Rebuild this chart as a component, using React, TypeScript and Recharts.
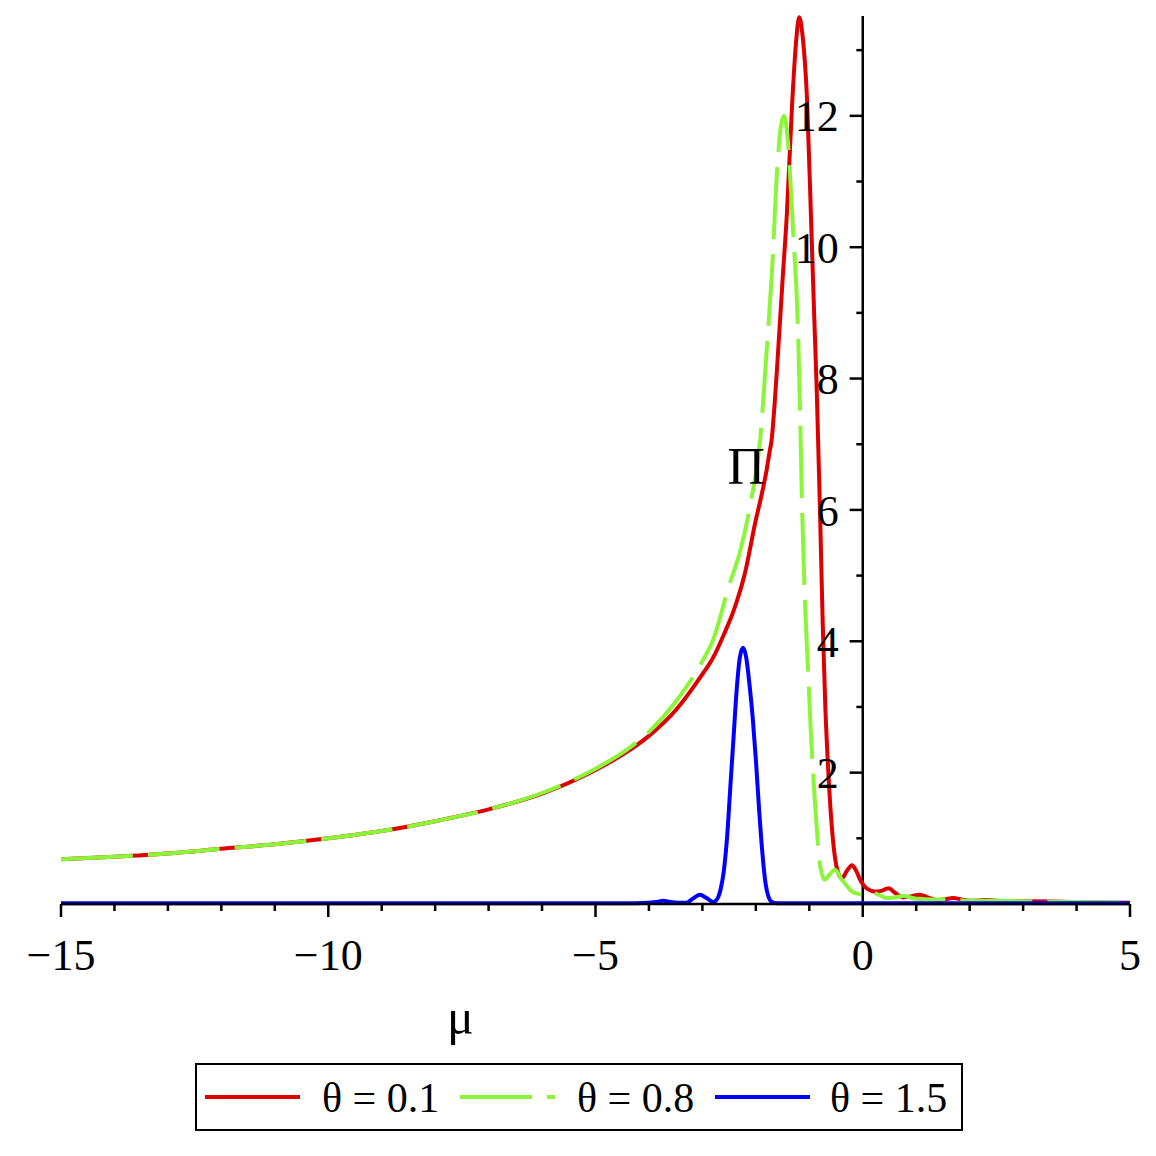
import { LineChart, Line, XAxis, YAxis, ReferenceLine, ReferenceDot } from 'recharts';

// θ = 0.1
const redMu = [-15, -14, -13, -12, -11, -10, -9, -8, -7, -6, -5, -4.5, -4, -3.5, -3, -2.8, -2.6, -2.4, -2.2, -2, -1.9, -1.8, -1.75, -1.7, -1.65, -1.6, -1.5, -1.42, -1.32, -1.25, -1.19, -1.13, -1.04, -0.97, -0.91, -0.86, -0.8, -0.75, -0.7, -0.65, -0.56, -0.47, -0.39, -0.3, -0.2, -0.12, -0.05, 0.07, 0.23, 0.35, 0.48, 0.62, 0.76, 0.92, 1.07, 1.22, 1.38, 1.53, 1.69, 1.85, 2.0, 2.3, 2.7, 3.2, 4, 5];
const redPi = [0.68, 0.72, 0.77, 0.84, 0.91, 1.0, 1.11, 1.26, 1.44, 1.68, 2.04, 2.27, 2.56, 2.95, 3.5, 3.75, 4.1, 4.5, 5.05, 5.85, 6.2, 6.6, 6.85, 7.1, 7.6, 8.2, 9.5, 10.5, 12.2, 13.1, 13.5, 13.25, 12.2, 10.5, 9.0, 7.8, 6.0, 4.3, 3.0, 2.1, 1.0, 0.5, 0.39, 0.5, 0.59, 0.5, 0.37, 0.24, 0.19, 0.2, 0.24, 0.16, 0.1, 0.12, 0.14, 0.1, 0.06, 0.07, 0.09, 0.07, 0.05, 0.06, 0.04, 0.04, 0.03, 0.02];

// θ = 0.8
const greenMu = [-15, -14, -13, -12, -11, -10, -9, -8, -7, -6, -5, -4.5, -4, -3.5, -3, -2.8, -2.5, -2.3, -2.1, -1.92, -1.8, -1.7, -1.6, -1.53, -1.47, -1.4, -1.3, -1.21, -1.17, -1.14, -1.08, -1.02, -0.97, -0.89, -0.8, -0.71, -0.62, -0.52, -0.4, -0.3, -0.2, -0.05, 0.1, 0.3, 0.45, 0.6, 0.76, 1.0, 1.3, 1.6, 2, 2.5, 3, 4, 5];
const greenPi = [0.68, 0.72, 0.77, 0.84, 0.91, 1.0, 1.11, 1.26, 1.44, 1.69, 2.06, 2.3, 2.62, 3.08, 3.7, 4.02, 4.85, 5.35, 6.1, 7.06, 8.4, 9.6, 11.2, 11.85, 12.0, 11.6, 10.2, 8.7, 7.4, 6.2, 4.6, 3.5, 2.6, 1.5, 0.6, 0.37, 0.45, 0.52, 0.38, 0.28, 0.19, 0.15, 0.2, 0.14, 0.09, 0.1, 0.12, 0.08, 0.07, 0.07, 0.05, 0.05, 0.04, 0.03, 0.02];

// θ = 1.5
const blueMu = [-15, -12, -9, -6, -4.5, -4, -3.85, -3.73, -3.6, -3.45, -3.3, -3.18, -3.05, -2.92, -2.8, -2.72, -2.66, -2.6, -2.54, -2.48, -2.42, -2.36, -2.3, -2.24, -2.18, -2.12, -2.06, -2.0, -1.94, -1.88, -1.82, -1.76, -1.7, -1.6, -1.4, -1, 0, 2, 5];
const bluePi = [0.01, 0.01, 0.01, 0.01, 0.01, 0.02, 0.03, 0.05, 0.03, 0.02, 0.02, 0.08, 0.14, 0.09, 0.03, 0.08, 0.22, 0.5, 1.0, 1.75, 2.5, 3.25, 3.75, 3.9, 3.75, 3.35, 2.85, 2.2, 1.45, 0.8, 0.32, 0.1, 0.03, 0.01, 0.01, 0.01, 0.01, 0.01, 0.01];

const xTicks = [-15, -14, -13, -12, -11, -10, -9, -8, -7, -6, -5, -4, -3, -2, -1, 0, 1, 2, 3, 4, 5];
const yTicks = [1, 2, 3, 4, 5, 6, 7, 8, 9, 10, 11, 12, 13];
const yMax = 13.52;
const seriesNames = ['θ = 0.1', 'θ = 0.8', 'θ = 1.5'];
const colors = ['#dd0000', '#8cf53a', '#0000ff'];
const piLabelAt = { x: -2.18, y: 6.67 };

const FONT = '"Liberation Serif", "Times New Roman", serif';
const GREEN_DASH = '72 15';
const LW = 4;

const toPoints = (mu: number[], pi: number[]) => mu.map((x, i) => ({ x, y: pi[i] }));
const redData = toPoints(redMu, redPi);
const greenData = toPoints(greenMu, greenPi);
const blueData = toPoints(blueMu, bluePi);

const fmt = (v: number) => (v < 0 ? `\u2212${-v}` : String(v));

function XTick(props: any) {
  const { x, y, payload } = props;
  const v = payload.value;
  const major = v % 5 === 0;
  return (
    <g>
      <line x1={x} x2={x} y1={y} y2={y + (major ? 13 : 7)} stroke="#000" strokeWidth={2.5} />
      {major && (
        <text x={x} y={y + 66} textAnchor="middle" fontSize={44} fontFamily={FONT} fill="#000">
          {fmt(v)}
        </text>
      )}
    </g>
  );
}

function LegendBox() {
  return (
    <svg width={770} height={70} style={{ position: 'absolute', left: 187, top: 1055 }}>
      <rect x={1} y={1} width={766} height={66} fill="#fff" stroke="#000" strokeWidth={2} />
      <line x1={10} x2={105} y1={34} y2={34} stroke={colors[0]} strokeWidth={LW} />
      <text x={127} y={49} fontSize={42} fontFamily={FONT}>{seriesNames[0]}</text>
      <line x1={265} x2={360} y1={34} y2={34} stroke={colors[1]} strokeWidth={LW} strokeDasharray={GREEN_DASH} />
      <text x={382} y={49} fontSize={42} fontFamily={FONT}>{seriesNames[1]}</text>
      <line x1={520} x2={615} y1={34} y2={34} stroke={colors[2]} strokeWidth={LW} />
      <text x={635} y={49} fontSize={42} fontFamily={FONT}>{seriesNames[2]}</text>
    </svg>
  );
}

export default function App() {
  return (
    <div style={{ position: 'relative', width: 1140, height: 1140, background: '#fff' }}>
      <LineChart
        width={1140}
        height={1140}
        margin={{ top: 8, right: 18, left: 53, bottom: 114 }}
        style={{ fontFamily: FONT }}
      >
        <XAxis
          type="number"
          dataKey="x"
          domain={[-15, 5]}
          ticks={xTicks}
          interval={0}
          height={130}
          tickSize={0}
          tickMargin={0}
          tick={<XTick />}
          axisLine={{ stroke: '#000', strokeWidth: 2.5 }}
          label={{ value: 'μ', position: 'insideBottom', dx: -135, offset: 0, fontSize: 50, fill: '#000', fontFamily: FONT }}
        />
        <YAxis type="number" dataKey="y" domain={[0, yMax]} hide />
        <ReferenceLine x={0} stroke="#000" strokeWidth={2.5} />
        {yTicks.map(v => (
          <ReferenceLine
            key={v}
            segment={[{ x: v % 2 === 0 ? -0.245 : -0.12, y: v }, { x: 0, y: v }]}
            stroke="#000"
            strokeWidth={2.5}
            label={v % 2 === 0 ? { value: String(v), position: 'left', offset: 11, fontSize: 44, fill: '#000', fontFamily: FONT } : undefined}
          />
        ))}
        <Line data={redData} dataKey="y" type="monotone" stroke={colors[0]} strokeWidth={LW} dot={false} isAnimationActive={false} />
        <Line data={greenData} dataKey="y" type="monotone" stroke={colors[1]} strokeWidth={LW} strokeDasharray={GREEN_DASH} dot={false} isAnimationActive={false} />
        <Line data={blueData} dataKey="y" type="monotone" stroke={colors[2]} strokeWidth={LW} dot={false} isAnimationActive={false} />
        <ReferenceDot
          x={piLabelAt.x}
          y={piLabelAt.y}
          r={0}
          fill="none"
          stroke="none"
          label={{ value: 'Π', position: 'center', fontSize: 52, fill: '#000', fontFamily: FONT }}
        />
      </LineChart>
      <LegendBox />
    </div>
  );
}
